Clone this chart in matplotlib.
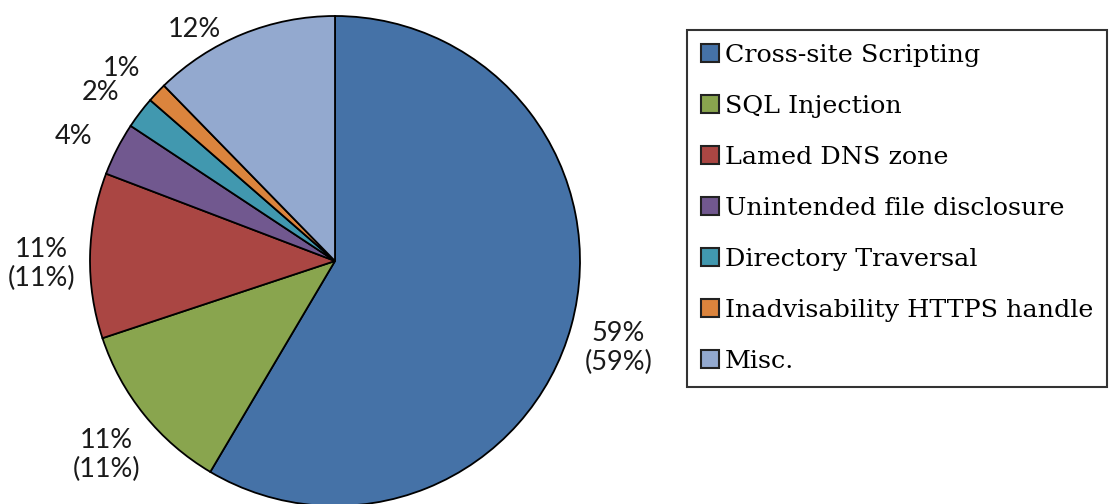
import matplotlib
matplotlib.use("Agg")
import numpy as np
import matplotlib.pyplot as plt

# vulnerability share
categories = ['Cross-site Scripting', 'SQL Injection', 'Lamed DNS zone',
              'Unintended file disclosure', 'Directory Traversal',
              'Inadvisability HTTPS handle', 'Misc.']
shares = [58.5, 11.4, 10.9, 3.5, 2.1, 1.3, 12.3]
slice_labels = ['59%\n(59%)', '11%\n(11%)', '11%\n(11%)', '4%', '2%', '1%', '12%']
colors = ['#4572A7', '#89A54E', '#AA4643', '#71588F', '#4198AF', '#DB843D', '#93A9CF']

fig = plt.figure(figsize=(11.15, 5.04), dpi=100)
ax = fig.add_axes([90 / 1115, -2 / 504, 490 / 1115, 490 / 504])

wedges, texts = ax.pie(shares, labels=slice_labels, colors=colors, startangle=90,
                       counterclock=False, labeldistance=1.2,
                       wedgeprops=dict(edgecolor='black', linewidth=1.3),
                       textprops=dict(fontsize=19.5, family='Lato', color='#1a1a1a'))
for t in texts:
    t.set_horizontalalignment('center')
    t.set_multialignment('center')
    x, y = t.get_position()
    t.set_position((x, y - 0.04))

# the top label sits a bit further round in the original, keep it inside the figure
w = wedges[-1]
ang = np.deg2rad((w.theta1 + w.theta2) / 2 + 8)
texts[-1].set_position((1.14 * np.cos(ang), 1.14 * np.sin(ang) - 0.04))

ax.set_xlim(-1, 1)
ax.set_ylim(-1, 1)
ax.set_aspect('equal')
ax.axis('off')

leg = fig.legend(wedges, categories, loc='upper left',
                 bbox_to_anchor=(687 / 1115, 1 - 30 / 504),
                 prop=dict(family='DejaVu Serif', size=18.3),
                 frameon=True, fancybox=False, edgecolor='black',
                 handlelength=0.7, handleheight=0.7, handletextpad=0.25,
                 labelspacing=1.1, borderpad=0.55, borderaxespad=0)
leg.get_frame().set_linewidth(1.5)
for h in leg.legend_handles:
    h.set_linewidth(1.5)
    h.set_edgecolor('#222222')

fig.savefig('out.png', dpi=100)
